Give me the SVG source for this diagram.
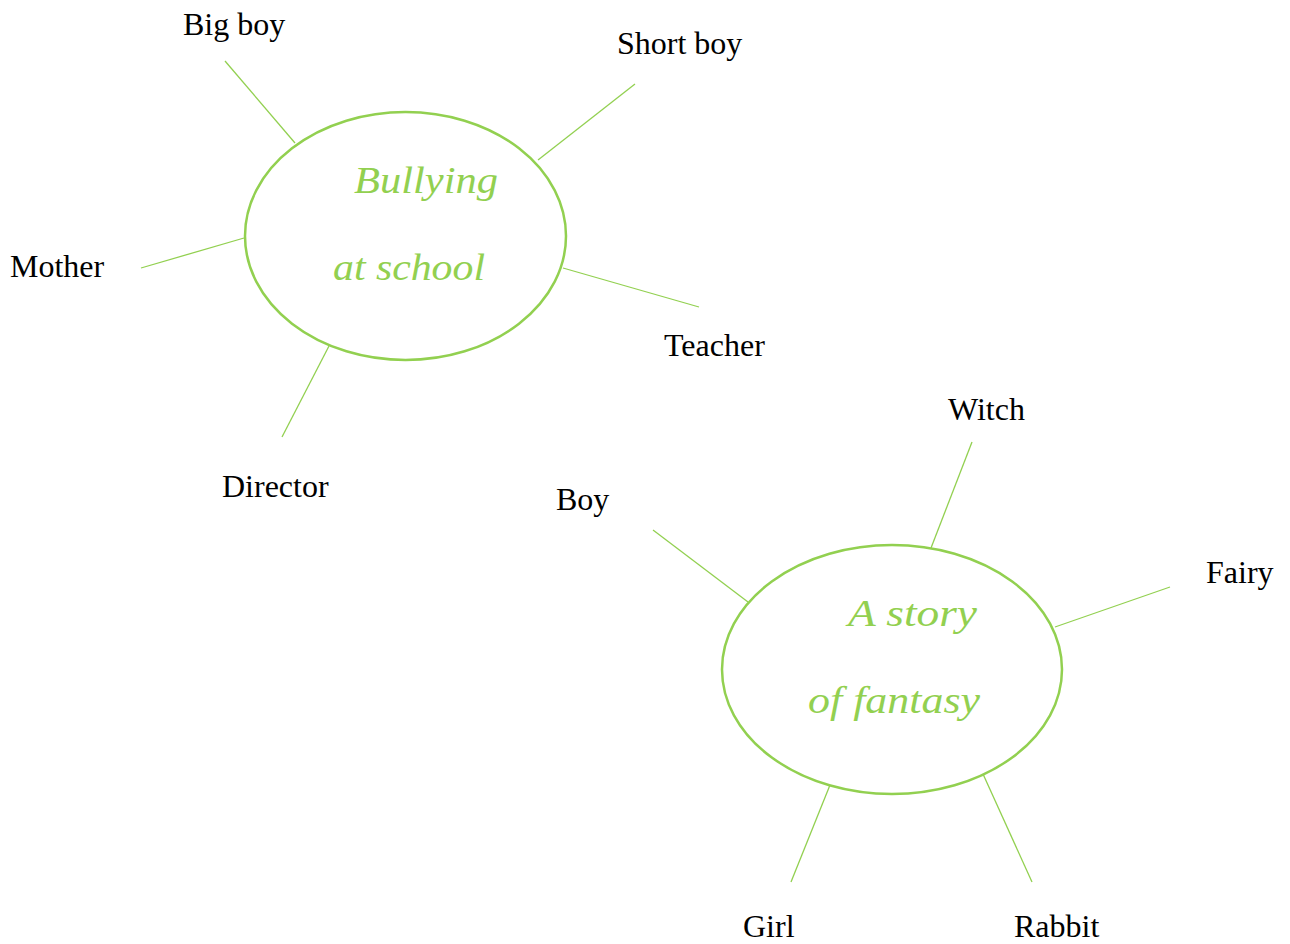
<svg xmlns="http://www.w3.org/2000/svg" width="1290" height="944" viewBox="0 0 1290 944">
<style>
.lbl{font-family:"Liberation Serif","Times New Roman",serif;font-size:32px;fill:#000}
.ttl{font-family:"Liberation Serif","DejaVu Serif",serif;font-style:italic;font-size:38px;fill:#92D050}
.hub{fill:#fff;stroke:#92D050;stroke-width:2.5}
.con line{stroke:#92D050;stroke-width:1.3}
</style>
<rect width="1290" height="944" fill="#fff"/>
<g id="connectors" class="con">
<line x1="225" y1="61" x2="295" y2="143"/>
<line x1="635" y1="84" x2="538" y2="160"/>
<line x1="141" y1="268" x2="244" y2="238"/>
<line x1="563" y1="268" x2="699" y2="307"/>
<line x1="329" y1="346" x2="282" y2="437"/>
<line x1="653" y1="530" x2="748" y2="602"/>
<line x1="972" y1="442" x2="931" y2="548"/>
<line x1="1170" y1="587" x2="1055" y2="627"/>
<line x1="830" y1="785" x2="791" y2="882"/>
<line x1="983" y1="774" x2="1032" y2="882"/>
</g>
<g id="hub-bullying">
<ellipse class="hub" cx="405.5" cy="236" rx="160.5" ry="124"/>
<text class="ttl" x="354" y="193" textLength="144" lengthAdjust="spacingAndGlyphs">Bullying</text>
<text class="ttl" x="333" y="280" textLength="152" lengthAdjust="spacingAndGlyphs">at school</text>
</g>
<g id="hub-fantasy">
<ellipse class="hub" cx="892" cy="669.5" rx="170" ry="124.5"/>
<text class="ttl" x="848" y="626" textLength="129" lengthAdjust="spacingAndGlyphs">A story</text>
<text class="ttl" x="808" y="713" textLength="172" lengthAdjust="spacingAndGlyphs">of fantasy</text>
</g>
<g id="n-bigboy"><text class="lbl" x="183" y="35">Big boy</text></g>
<g id="n-shortboy"><text class="lbl" x="617" y="54">Short boy</text></g>
<g id="n-mother"><text class="lbl" x="10" y="277">Mother</text></g>
<g id="n-teacher"><text class="lbl" x="664" y="356">Teacher</text></g>
<g id="n-director"><text class="lbl" x="222" y="497">Director</text></g>
<g id="n-witch"><text class="lbl" x="948" y="420">Witch</text></g>
<g id="n-boy"><text class="lbl" x="556" y="510">Boy</text></g>
<g id="n-fairy"><text class="lbl" x="1206" y="583">Fairy</text></g>
<g id="n-girl"><text class="lbl" x="743" y="937">Girl</text></g>
<g id="n-rabbit"><text class="lbl" x="1014" y="937">Rabbit</text></g>
</svg>
